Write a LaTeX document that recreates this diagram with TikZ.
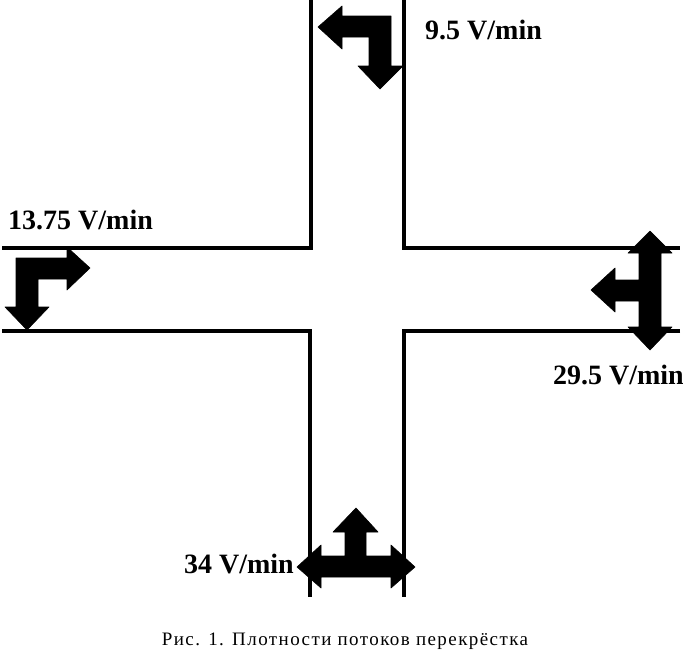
\documentclass[tikz,border=0pt]{standalone}
\usepackage{fontspec}
\setmainfont{Liberation Serif}
\tikzset{
    road/.style={black, line width=3.4pt},
    flow/.style={fill=black, draw=black, line width=0.6pt, line join=round},
    rate/.style={inner sep=0pt, font=\fontsize{28}{30}\selectfont\bfseries},
    caption/.style={inner sep=0pt, font=\fontsize{19}{21}\selectfont\addfontfeature{LetterSpace=7.5}}
}
\begin{document}
\begin{tikzpicture}[x=1pt,y=-1pt]
        \useasboundingbox (0,0) rectangle (683,651);
        % roads
        \draw[road] (311,0) -- (311,248) -- (2,248);
        \draw[road] (404,0) -- (404,248) -- (680,248);
        \draw[road] (2,331) -- (310,331) -- (310,597);
        \draw[road] (680,331) -- (404,331) -- (404,597);
        % flows
        \fill[flow] (318,27) -- (342,6) -- (342,16) -- (391,16) -- (391,66) -- (403,66) -- (380,89) -- (358,66) -- (369,66) -- (369,37) -- (342,37) -- (342,49) -- cycle;
        \fill[flow] (90,268) -- (67,247) -- (67,258) -- (16,258) -- (16,307) -- (5,307) -- (27,330) -- (49,307) -- (38,307) -- (38,279) -- (67,279) -- (67,290) -- cycle;
        \fill[flow] (650,231) -- (672,253) -- (661,253) -- (661,327) -- (672,327) -- (650,350) -- (628,327) -- (639,327) -- (639,301) -- (615,301) -- (615,312) -- (591,290) -- (615,268) -- (615,280) -- (639,280) -- (639,253) -- (628,253) -- cycle;
        \fill[flow] (297,567) -- (321,545) -- (321,556) -- (345,556) -- (345,532) -- (333,532) -- (356,508) -- (378,532) -- (366,532) -- (366,556) -- (391,556) -- (391,545) -- (415,567) -- (391,588) -- (391,577) -- (321,577) -- (321,588) -- cycle;
        % labels
        \node[rate, anchor=west] (top) at (425,30) {9.5 V/min};
        \node[rate, anchor=west] (left) at (8,220) {13.75 V/min};
        \node[rate, anchor=east] (right) at (684,375) {29.5 V/min};
        \node[rate, anchor=east] (bottom) at (294,564) {34 V/min};
        \node[caption] (title) at (345,641) {Рис. 1. Плотности потоков перекрёстка};
    \end{tikzpicture}
\end{document}
